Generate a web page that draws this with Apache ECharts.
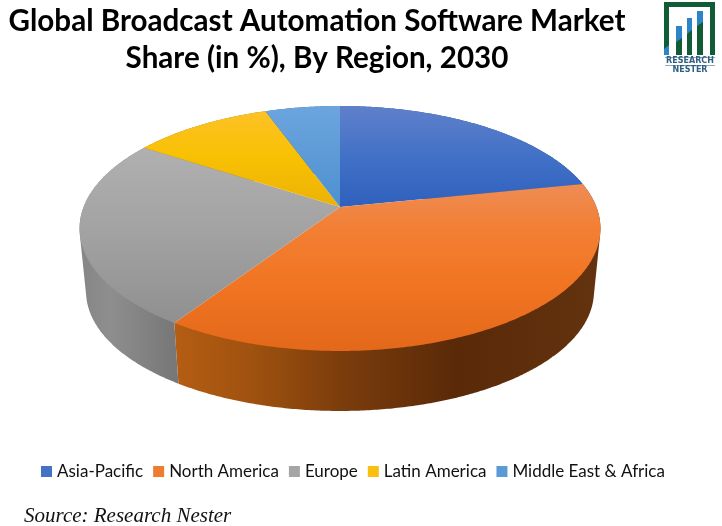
<!DOCTYPE html>
<html><head><meta charset="utf-8">
<style>html,body{margin:0;padding:0;background:#fff}#c{width:722px;height:526px}</style>
<script src="https://cdn.jsdelivr.net/npm/echarts@6/dist/echarts.min.js"></script>
</head><body><div id="c"></div>
<script>
const categories = ['Asia-Pacific', 'North America', 'Europe', 'Latin America', 'Middle East & Africa'];
const shares = [21.8, 37.5, 24.9, 10.3, 5.5];
const legendColors = ['#4472C4', '#ED7D31', '#A5A5A5', '#F9C010', '#5B9BD5'];

// Top-face shading (offset along the pie's vertical extent, colour)
const topShades = [
  [[0, '#5f80cb'], [0.22, '#4070c6'], [0.41, '#2f60bd'], [1, '#2f60bd']],
  [[0, '#ee8c55'], [0.32, '#ee8c55'], [0.5, '#f27f34'], [0.72, '#f17522'], [1, '#e3681a']],
  [[0, '#b4b4b4'], [0.17, '#b0b0b0'], [0.5, '#a3a3a3'], [0.88, '#909090'], [1, '#909090']],
  [[0, '#fcc12c'], [0.2, '#f9c103'], [0.41, '#ecb206'], [1, '#ecb206']],
  [[0, '#6ca5de'], [0.41, '#4e90d0'], [1, '#4e90d0']]
];
// Side-wall shading (offset along the pie's horizontal extent, colour)
const sideShades = [
  [[0, '#2c5394'], [1, '#2c5394']],
  [[0, '#b55d13'], [0.18, '#b55d13'], [0.33, '#a0520f'], [0.5, '#7c3d0c'], [0.72, '#5a2a08'], [1, '#633310']],
  [[0, '#858585'], [0.06, '#8e8e8e'], [0.18, '#787878'], [1, '#787878']],
  [[0, '#9a7a10'], [1, '#9a7a10']],
  [[0, '#3d6c99'], [1, '#3d6c99']]
];

// Perspective disc geometry
const apexX = 340, apexY = 207, radX = 256.4, radY = 118.7, persp = 0.1755;
const depth = 63.6, floorScale = 0.975;
const edgeLeft = 79, edgeRight = 600, edgeTop = 106, edgeBottom = 351;

function project(deg, scale, dy) {
  const a = deg * Math.PI / 180, u = Math.sin(a), v = -Math.cos(a);
  const w = 1 - persp * v;
  return [apexX + scale * radX * u / w, apexY + dy + scale * radY * v / w];
}
function arc(from, to, scale, dy) {
  const pts = [], n = Math.max(2, Math.ceil((to - from) * 2));
  for (let i = 0; i <= n; i++) pts.push(project(from + (to - from) * i / n, scale, dy));
  return pts;
}
// Outline of the wall a rim arc sweeps between top and floor (anything beyond the rim sits under the top face).
function sweepOutline(points) {
  const p = points.slice().sort((a, b) => a[0] - b[0] || a[1] - b[1]);
  const cross = (o, a, b) => (a[0] - o[0]) * (b[1] - o[1]) - (a[1] - o[1]) * (b[0] - o[0]);
  const half = list => {
    const out = [];
    for (const q of list) {
      while (out.length > 1 && cross(out[out.length - 2], out[out.length - 1], q) <= 0) out.pop();
      out.push(q);
    }
    out.pop();
    return out;
  };
  return half(p).concat(half(p.slice().reverse()));
}
function stops(list) { return list.map(s => ({ offset: s[0], color: s[1] })); }
const total = shares.reduce((a, b) => a + b, 0);

function renderSlice(idx) {
  const wallFill = { type: 'linear', global: true, x: edgeLeft, y: 0, x2: edgeRight, y2: 0, colorStops: stops(sideShades[idx]) };
  const faceFill = { type: 'linear', global: true, x: 0, y: edgeTop, x2: 0, y2: edgeBottom, colorStops: stops(topShades[idx]) };
  return function (params, api) {
    const val = api.value(0);
    let before = 0;
    for (let i = 0; i < idx; i++) before += shares[i];
    const from = before / total * 360, to = (before + val) / total * 360;
    const topArc = arc(from, to, 1, 0);
    const floorArc = arc(from, to, floorScale, depth);
    return {
      type: 'group',
      children: [
        { type: 'polygon', z2: 1, shape: { points: sweepOutline(topArc.concat(floorArc)) }, style: { fill: wallFill } },
        { type: 'polygon', z2: 10, shape: { points: [[apexX, apexY]].concat(topArc) }, style: { fill: faceFill } }
      ]
    };
  };
}

const frameGreen = '#0f5c36', logoBlue = '#2a86c8', logoText = '#2f5f85';
const chart = echarts.init(document.getElementById('c'), null, { renderer: 'canvas' });
chart.setOption({
  animation: false,
  backgroundColor: '#fff',
  title: {
    text: 'Global Broadcast Automation Software Market\nShare (in %), By Region, 2030',
    left: 312, top: -2, textAlign: 'center',
    textStyle: { fontFamily: 'Lato', fontWeight: 'bold', fontSize: 29.6, lineHeight: 37, color: '#000' }
  },
  legend: {
    left: 36, top: 458, icon: 'rect', itemWidth: 11, itemHeight: 11, itemGap: 10,
    textStyle: { fontFamily: 'Lato', fontSize: 17, color: '#111' },
    data: categories
  },
  graphic: [
    { type: 'text', left: 24, top: 506, style: { text: 'Source: Research Nester', font: 'italic 21px "Liberation Serif"', fill: '#111' } },
    // logo
    { type: 'polygon', shape: { points: [[664,2],[715,2],[715,55],[710,55],[710,7],[669,7],[669,55],[664,55]] }, style: { fill: frameGreen } },
    { type: 'polygon', shape: { points: [[664,55],[664,49],[669,45],[669,55]] }, style: { fill: logoBlue } },
    { type: 'rect', shape: { x: 676, y: 26, width: 6, height: 29 }, style: { fill: frameGreen } },
    { type: 'polygon', shape: { points: [[676,26],[682,26],[682,38],[676,42]] }, style: { fill: logoBlue } },
    { type: 'rect', shape: { x: 687, y: 18, width: 5, height: 37 }, style: { fill: frameGreen } },
    { type: 'polygon', shape: { points: [[687,18],[692,18],[692,30],[687,34]] }, style: { fill: logoBlue } },
    { type: 'rect', shape: { x: 697, y: 11, width: 6, height: 44 }, style: { fill: frameGreen } },
    { type: 'polygon', shape: { points: [[697,11],[703,11],[703,22],[697,26]] }, style: { fill: logoBlue } },
    { type: 'rect', shape: { x: 665, y: 57, width: 50, height: 1 }, style: { fill: '#8fa9bd' } },
    { type: 'text', x: 690, y: 61, style: { text: 'RESEARCH', font: 'bold 8px "DejaVu Sans"', fill: logoText, align: 'center', verticalAlign: 'middle' } },
    { type: 'rect', shape: { x: 665, y: 65, width: 50, height: 1 }, style: { fill: '#8fa9bd' } },
    { type: 'text', x: 690, y: 70, style: { text: 'NESTER', font: 'bold 8px "DejaVu Sans"', fill: logoText, align: 'center', verticalAlign: 'middle' } }
  ],
  series: categories.map((name, i) => ({
    type: 'custom',
    name: name,
    coordinateSystem: 'none',
    silent: true,
    itemStyle: { color: legendColors[i] },
    renderItem: renderSlice(i),
    data: [[shares[i]]]
  }))
});
</script></body></html>
